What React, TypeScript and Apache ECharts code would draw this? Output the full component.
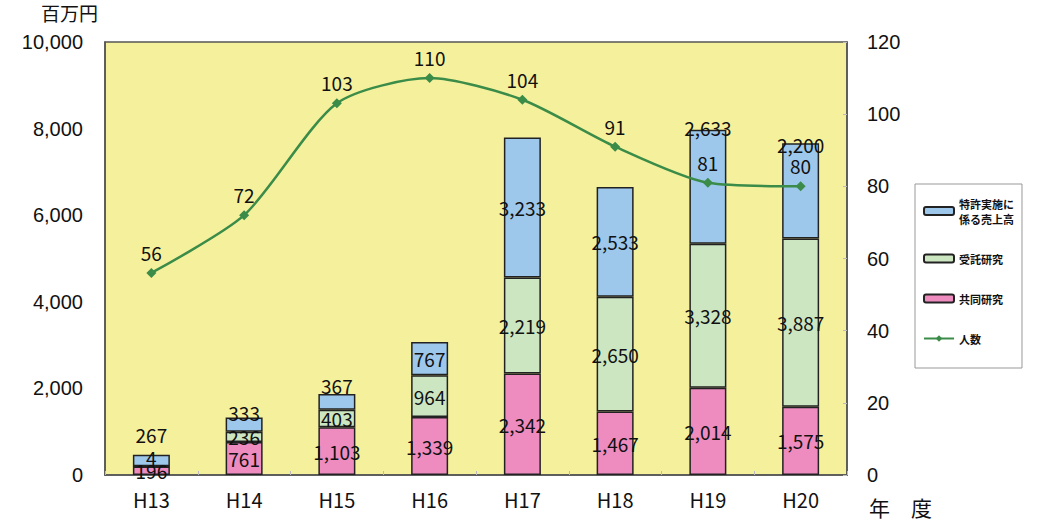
import React, { useEffect, useRef } from "react";
import * as echarts from "echarts";

const categories = ["H13", "H14", "H15", "H16", "H17", "H18", "H19", "H20"];
const kyodo = [196, 761, 1103, 1339, 2342, 1467, 2014, 1575];
const jutaku = [4, 236, 403, 964, 2219, 2650, 3328, 3887];
const tokkyo = [267, 333, 367, 767, 3233, 2533, 2633, 2200];
const ninzu = [56, 72, 103, 110, 104, 91, 81, 80];

const FONT = "'Noto Sans CJK JP', 'Noto Sans', sans-serif";

export default function App() {
  const ref = useRef<HTMLDivElement>(null);
  useEffect(() => {
    const chart = echarts.init(ref.current!, null, { renderer: "svg" });
    const labelBase = {
      show: true,
      color: "#111",
      fontSize: 19,
      fontFamily: FONT,
      formatter: (p: any) => Number(p.value).toLocaleString("en-US"),
    };
    const tokkyoTopDist = [11, -5, -1, null, null, null, -7, -11];
    const tokkyoData = tokkyo.map((v, i) =>
      tokkyoTopDist[i] === null
        ? v
        : { value: v, label: { position: "top", distance: tokkyoTopDist[i] } }
    );
    const jutakuData = jutaku.map((v, i) =>
      i === 0 ? { value: v, label: { offset: [0, -9] } } : v
    );
    const border = { borderColor: "#222", borderWidth: 1.5 };
    chart.setOption({
      animation: false,
      textStyle: { fontFamily: FONT },
      grid: {
        left: 105,
        top: 42,
        width: 742,
        height: 433,
        show: true,
        backgroundColor: "#f5f09c",
        borderColor: "#555",
        borderWidth: 1.5,
      },
      legend: {
        orient: "vertical",
        left: 915,
        top: 184,
        width: 122,
        padding: [12, 8, 22, 8],
        itemGap: 25,
        itemWidth: 30,
        itemHeight: 8,
        borderColor: "#999",
        borderWidth: 1,
        backgroundColor: "#fff",
        textStyle: { fontSize: 11, lineHeight: 15, fontWeight: "bold", color: "#111", fontFamily: FONT },
        formatter: (name: string) =>
          name === "特許実施に係る売上高" ? "特許実施に\n係る売上高" : name,
        data: ["特許実施に係る売上高", "受託研究", "共同研究", "人数"],
      },
      graphic: [
        { type: "text", left: 41, top: 3, style: { text: "百万円", fontSize: 19, fill: "#111", fontFamily: FONT } },
        { type: "text", left: 869, top: 496, style: { text: "年　度", fontSize: 21, fill: "#111", fontFamily: FONT } },
      ],
      xAxis: {
        type: "category",
        data: categories,
        axisLine: { show: true, lineStyle: { color: "#555", width: 1.5 } },
        axisTick: { show: true, inside: true, length: 4, lineStyle: { color: "#bbb" } },
        axisLabel: { fontSize: 20, color: "#111", margin: 14, fontFamily: FONT },
      },
      yAxis: [
        {
          type: "value",
          min: 0,
          max: 10000,
          interval: 2000,
          splitLine: { show: false },
          axisLine: { show: true, lineStyle: { color: "#555", width: 1.5 } },
          axisTick: { show: false },
          axisLabel: { fontSize: 20, color: "#111", margin: 22, fontFamily: "'Liberation Sans', Arial, sans-serif" },
        },
        {
          type: "value",
          min: 0,
          max: 120,
          interval: 20,
          splitLine: { show: false },
          axisLine: { show: true, lineStyle: { color: "#555", width: 1.5 } },
          axisTick: { show: true, inside: true, length: 4, lineStyle: { color: "#bbb" } },
          axisLabel: { fontSize: 20, color: "#111", margin: 20, fontFamily: "'Liberation Sans', Arial, sans-serif" },
        },
      ],
      series: [
        {
          name: "共同研究",
          type: "bar",
          stack: "a",
          barWidth: 37,
          data: kyodo,
          itemStyle: { color: "#ee8cc0", ...border },
          label: { ...labelBase, position: "inside" },
        },
        {
          name: "受託研究",
          type: "bar",
          stack: "a",
          data: jutakuData,
          itemStyle: { color: "#cce6c2", ...border },
          label: { ...labelBase, position: "inside" },
        },
        {
          name: "特許実施に係る売上高",
          type: "bar",
          stack: "a",
          data: tokkyoData,
          itemStyle: { color: "#9dc8ec", ...border },
          label: { ...labelBase, position: "inside" },
        },
        {
          name: "人数",
          type: "line",
          yAxisIndex: 1,
          data: ninzu,
          smooth: 0.25,
          symbol: "diamond",
          symbolSize: 10,
          lineStyle: { color: "#3a8c48", width: 2.5 },
          itemStyle: { color: "#3a8c48" },
          label: { show: true, position: "top", distance: 6, fontSize: 19, color: "#111", fontFamily: FONT },
          z: 5,
        },
      ],
    });
    return () => chart.dispose();
  }, []);
  return (
    <div
      ref={ref}
      style={{ position: "fixed", left: 0, top: 0, width: 1040, height: 527, background: "#fff" }}
    />
  );
}
